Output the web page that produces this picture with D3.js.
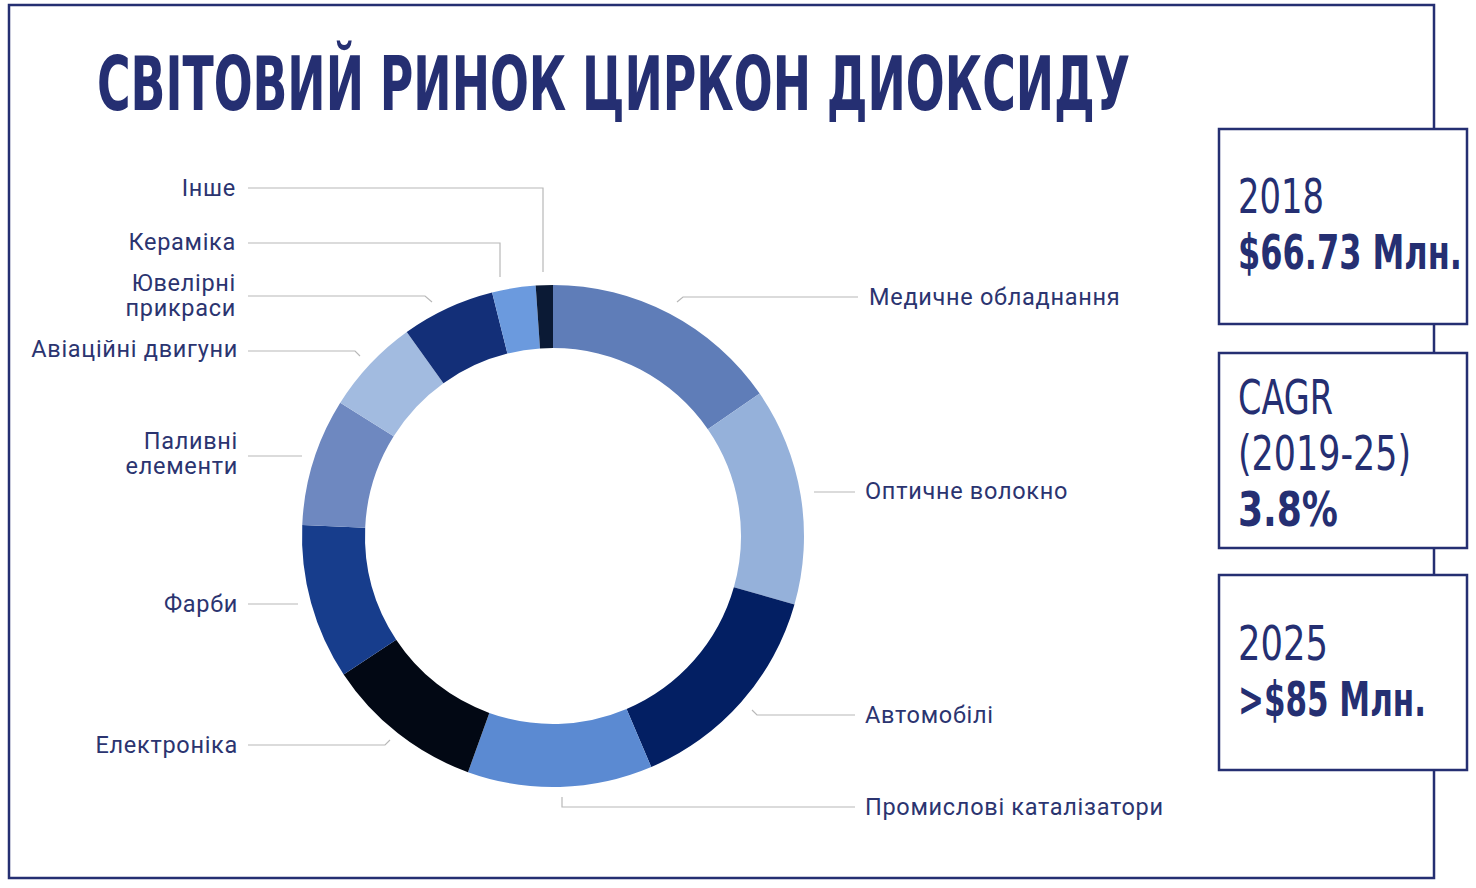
<!DOCTYPE html>
<html><head><meta charset="utf-8">
<script src="https://cdn.jsdelivr.net/npm/d3@7"></script>
<style>body{margin:0;background:#fff}</style>
</head><body>
<svg id="chart" width="1476" height="888"></svg>
<script>
// дані
const categories = ['Медичне обладнання','Оптичне волокно','Автомобілі','Промислові каталізатори','Електроніка','Фарби','Паливні елементи','Авіаційні двигуни','Ювелірні прикраси','Кераміка','Інше'];
const shares = [15.4, 14.0, 14.2, 11.9, 10.2, 10.0, 8.2, 6.2, 6.0, 2.8, 1.1];
const colors = ['#5f7db8','#95b1da','#031f63','#5b8ad2','#020814','#173d8c','#6e88c0','#a2bbe0','#132f78','#6b9ade','#0b1a35'];
const boxLines = [
  [['2018', false], ['$66.73 Млн.', true]],
  [['CAGR', false], ['(2019-25)', false], ['3.8%', true]],
  [['2025', false], ['>$85 Млн.', true]]
];

// розташування підписів
const labelLayout = [
  {lines:['Медичне обладнання'], x:869, y:297, a:'start', path:[[858,297],[683,297],[677,302]]},
  {lines:['Оптичне волокно'], x:865, y:491, a:'start', path:[[855,492],[814,492]]},
  {lines:['Автомобілі'], x:865, y:715, a:'start', path:[[855,715],[757,715],[752,710]]},
  {lines:['Промислові каталізатори'], x:865, y:807, a:'start', path:[[855,807],[562,807],[562,797]]},
  {lines:['Електроніка'], x:238, y:745, a:'end', path:[[248,745],[385,745],[390,740]]},
  {lines:['Фарби'], x:238, y:604, a:'end', path:[[248,604],[298,604]]},
  {lines:['Паливні','елементи'], x:238, y:441, a:'end', path:[[248,456],[302,456]]},
  {lines:['Авіаційні двигуни'], x:238, y:349, a:'end', path:[[248,351],[355,351],[360,356]]},
  {lines:['Ювелірні','прикраси'], x:236, y:283, a:'end', path:[[248,296],[425,296],[432,302]]},
  {lines:['Кераміка'], x:236, y:242, a:'end', path:[[248,243],[500,243],[500,277]]},
  {lines:['Інше'], x:236, y:188, a:'end', path:[[248,188],[543,188],[543,272]]}
];
const boxWidths = [[86, 224], [95, 173, 100], [90, 188]];

const navy = '#252f72';
const condensed = '"Liberation Sans Narrow","DejaVu Sans Condensed",sans-serif';
const svg = d3.select('#chart');

// рамка
svg.append('rect').attr('x', 9).attr('y', 5).attr('width', 1425).attr('height', 873)
  .attr('fill', 'none').attr('stroke', navy).attr('stroke-width', 2.5);

// заголовок
svg.append('text').attr('x', 97).attr('y', 110)
  .attr('textLength', 1033).attr('lengthAdjust', 'spacingAndGlyphs')
  .style('font-family', condensed)
  .style('font-weight', 'bold').style('font-size', '74px').attr('fill', navy)
  .text('СВІТОВИЙ РИНОК ЦИРКОН ДИОКСИДУ');

// кільцева діаграма
const cx = 553, cy = 536;
const pie = d3.pie().sort(null).value(d => d);
const arc = d3.arc().innerRadius(188).outerRadius(251);
const g = svg.append('g').attr('transform', `translate(${cx},${cy})`);
g.selectAll('path').data(pie(shares)).enter().append('path')
  .attr('d', arc).attr('fill', (d, i) => colors[i]);

// підписи
const line = d3.line();
labelLayout.forEach(l => {
  svg.append('path').attr('d', line(l.path)).attr('fill', 'none')
    .attr('stroke', '#b8b8b8').attr('stroke-width', 1.2);
  const t = svg.append('text').attr('x', l.x).attr('y', l.y + 8)
    .attr('text-anchor', l.a).attr('fill', '#2b3470')
    .style('font-family', 'Roboto,sans-serif').style('font-size', '23.5px')
    .style('letter-spacing', '0.7px');
  l.lines.forEach((s, i) => t.append('tspan').attr('x', l.x).attr('dy', i ? 25 : 0).text(s));
});

// блоки праворуч
const boxY = [129, 353, 575];
const boxFirst = [213, 414, 660];
boxLines.forEach((lines, bi) => {
  svg.append('rect').attr('x', 1219).attr('y', boxY[bi]).attr('width', 248).attr('height', 195)
    .attr('fill', '#fff').attr('stroke', navy).attr('stroke-width', 2.5);
  lines.forEach(([s, bold], i) => {
    svg.append('text').attr('x', 1238).attr('y', boxFirst[bi] + i * 56)
      .attr('fill', navy)
      .attr('textLength', boxWidths[bi][i]).attr('lengthAdjust', 'spacingAndGlyphs')
      .style('font-family', condensed)
      .style('font-weight', bold ? 'bold' : 'normal').style('font-size', '48px')
      .text(s);
  });
});
</script>
</body></html>
